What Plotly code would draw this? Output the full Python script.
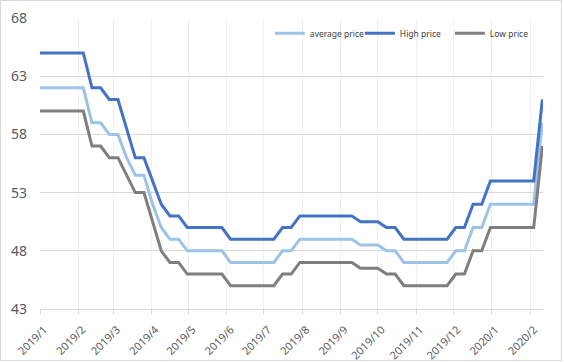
import plotly.graph_objects as go

dates = [
    "2019-01-01", "2019-01-08", "2019-01-15", "2019-01-22", "2019-01-29",
    "2019-02-05", "2019-02-12", "2019-02-19", "2019-02-26",
    "2019-03-05", "2019-03-12", "2019-03-19", "2019-03-26",
    "2019-04-02", "2019-04-09", "2019-04-16", "2019-04-23", "2019-04-30",
    "2019-05-07", "2019-05-14", "2019-05-21", "2019-05-28",
    "2019-06-04", "2019-06-11", "2019-06-18", "2019-06-25",
    "2019-07-02", "2019-07-09", "2019-07-16", "2019-07-23", "2019-07-30",
    "2019-08-06", "2019-08-13", "2019-08-20", "2019-08-27",
    "2019-09-03", "2019-09-10", "2019-09-17", "2019-09-24",
    "2019-10-01", "2019-10-08", "2019-10-15", "2019-10-22", "2019-10-29",
    "2019-11-05", "2019-11-12", "2019-11-19", "2019-11-26",
    "2019-12-03", "2019-12-10", "2019-12-17", "2019-12-24", "2019-12-31",
    "2020-01-07", "2020-01-14", "2020-01-21", "2020-01-28",
    "2020-02-04", "2020-02-11",
]

high_price = [
    65, 65, 65, 65, 65,
    65, 62, 62, 61,
    61, 58.5, 56, 56,
    54, 52, 51, 51, 50,
    50, 50, 50, 50,
    49, 49, 49, 49,
    49, 49, 50, 50, 51,
    51, 51, 51, 51,
    51, 51, 50.5, 50.5,
    50.5, 50, 50, 49, 49,
    49, 49, 49, 49,
    50, 50, 52, 52, 54,
    54, 54, 54, 54,
    54, 61,
]

average_price = [
    62, 62, 62, 62, 62,
    62, 59, 59, 58,
    58, 56, 54.5, 54.5,
    52, 50, 49, 49, 48,
    48, 48, 48, 48,
    47, 47, 47, 47,
    47, 47, 48, 48, 49,
    49, 49, 49, 49,
    49, 49, 48.5, 48.5,
    48.5, 48, 48, 47, 47,
    47, 47, 47, 47,
    48, 48, 50, 50, 52,
    52, 52, 52, 52,
    52, 59,
]

low_price = [
    60, 60, 60, 60, 60,
    60, 57, 57, 56,
    56, 54.5, 53, 53,
    50.5, 48, 47, 47, 46,
    46, 46, 46, 46,
    45, 45, 45, 45,
    45, 45, 46, 46, 47,
    47, 47, 47, 47,
    47, 47, 46.5, 46.5,
    46.5, 46, 46, 45, 45,
    45, 45, 45, 45,
    46, 46, 48, 48, 50,
    50, 50, 50, 50,
    50, 57,
]

series_names = ["average price", "High price", "Low price"]
series_colors = ["#9DC3E6", "#4472C4", "#7F7F7F"]
y_ticks = [43, 48, 53, 58, 63, 68]

fig = go.Figure()
for name, vals, col in zip(series_names, [average_price, high_price, low_price], series_colors):
    fig.add_trace(go.Scatter(
        x=dates, y=vals, mode="lines", name=name,
        line=dict(color=col, width=3),
    ))

fig.update_layout(
    width=564, height=362,
    margin=dict(l=40, r=21, t=18, b=53, autoexpand=False),
    paper_bgcolor="white", plot_bgcolor="white",
    font=dict(family="Noto Sans, Liberation Sans, sans-serif", color="#595959"),
    showlegend=True,
    legend=dict(
        orientation="h", x=0.457, y=0.997, xanchor="left", yanchor="top",
        font=dict(size=8.5, color="#404040"), bgcolor="rgba(0,0,0,0)",
        itemwidth=30, tracegroupgap=0,
        entrywidth=45, entrywidthmode="pixels",
    ),
    xaxis=dict(
        type="date", range=["2019-01-01", "2020-02-11 12:00"],
        tick0="2019-01-01", dtick="M1", tickformat="%Y/%-m",
        tickangle=-45, tickfont=dict(size=11, color="#595959"),
        ticklabelstandoff=5, ticklabelshift=4,
        showgrid=True, gridcolor="#F0F0F0", gridwidth=1,
        showline=True, linecolor="#D9D9D9", linewidth=1,
        ticks="outside", ticklen=4, tickcolor="#D9D9D9",
        zeroline=False, automargin=False,
    ),
    yaxis=dict(
        range=[43, 68], tickvals=y_ticks, ticktext=[str(v) for v in y_ticks],
        tickfont=dict(size=14, color="#595959"),
        showgrid=True, gridcolor="#D9D9D9", gridwidth=1,
        zeroline=False, showline=False, ticks="",
        ticklabelstandoff=12, automargin=False,
    ),
)

fig.add_shape(
    type="rect", xref="paper", yref="paper",
    x0=-39.5 / 503, x1=(561.5 - 40) / 503,
    y0=-(360.5 - 309) / 291, y1=(309 - 0.5) / 291,
    line=dict(color="#D9D9D9", width=1), fillcolor="rgba(0,0,0,0)", layer="below",
)

fig.write_html(
    "out.html",
    config={"displayModeBar": False},
    post_script="document.body.style.margin='0';document.body.style.overflow='hidden';",
)
